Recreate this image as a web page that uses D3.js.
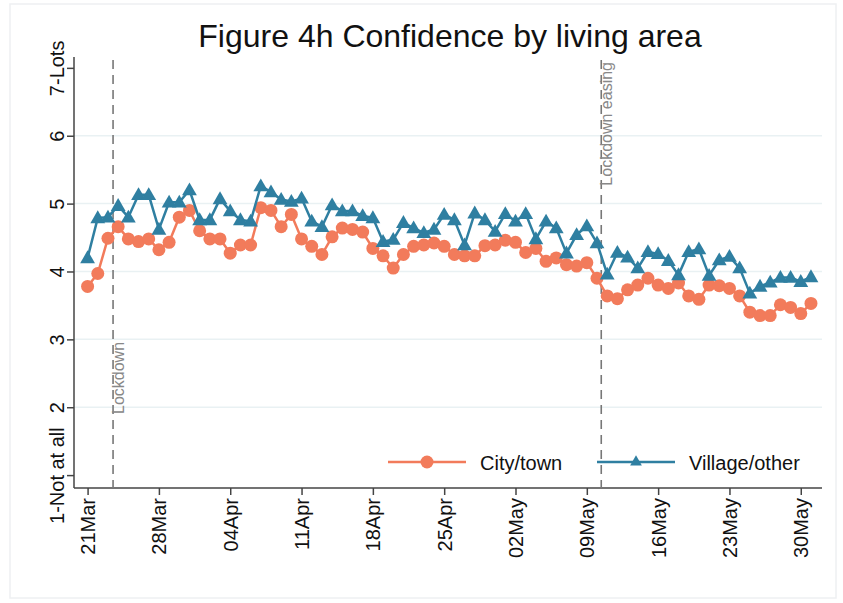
<!DOCTYPE html>
<html>
<head>
<meta charset="utf-8">
<script src="https://cdn.jsdelivr.net/npm/d3@7"></script>
<style>
  body { margin: 0; background: #fff; }
  svg { font-family: "Liberation Sans", Arial, sans-serif; }
</style>
</head>
<body>
<div id="chart"></div>
<script>
// daily series from 21 Mar to 31 May
const startDate = new Date(Date.UTC(2020, 2, 21));
const endDate = new Date(Date.UTC(2020, 5, 1));

const cityTown = [3.78, 3.97, 4.49, 4.66, 4.48, 4.44, 4.48, 4.32, 4.43, 4.80,
  4.90, 4.60, 4.48, 4.48, 4.27, 4.39, 4.39, 4.94, 4.90, 4.66,
  4.84, 4.48, 4.37, 4.25, 4.51, 4.64, 4.62, 4.58, 4.34, 4.23,
  4.05, 4.25, 4.37, 4.39, 4.42, 4.37, 4.25, 4.23, 4.23, 4.38,
  4.39, 4.46, 4.43, 4.28, 4.34, 4.15, 4.20, 4.10, 4.08, 4.13,
  3.90, 3.64, 3.60, 3.73, 3.80, 3.90, 3.80, 3.75, 3.83, 3.64,
  3.59, 3.80, 3.79, 3.75, 3.64, 3.40, 3.35, 3.35, 3.51, 3.47,
  3.38, 3.53];

const villageOther = [4.20, 4.79, 4.80, 4.97, 4.80, 5.13, 5.13, 4.62, 5.02, 5.02,
  5.20, 4.76, 4.76, 5.07, 4.89, 4.76, 4.74, 5.26, 5.17, 5.06,
  5.03, 5.08, 4.74, 4.66, 4.98, 4.89, 4.89, 4.82, 4.79, 4.44,
  4.47, 4.72, 4.64, 4.57, 4.62, 4.84, 4.76, 4.39, 4.86, 4.76,
  4.59, 4.85, 4.74, 4.85, 4.48, 4.74, 4.64, 4.27, 4.54, 4.67,
  4.42, 3.96, 4.28, 4.21, 4.05, 4.29, 4.26, 4.16, 3.95, 4.29,
  4.33, 3.94, 4.17, 4.22, 4.05, 3.68, 3.78, 3.84, 3.91, 3.91,
  3.85, 3.92];

const xTickDates = ["2020-03-21", "2020-03-28", "2020-04-04", "2020-04-11", "2020-04-18",
  "2020-04-25", "2020-05-02", "2020-05-09", "2020-05-16", "2020-05-23", "2020-05-30"];
const yTicks = [1, 2, 3, 4, 5, 6, 7];
const yTickLabels = ["1-Not at all", "2", "3", "4", "5", "6", "7-Lots"];
const eventLines = [
  {date: "2020-03-23T12:00Z", label: "Lockdown"},
  {date: "2020-05-10T10:00Z", label: "Lockdown easing"}
];
const seriesNames = ["City/town", "Village/other"];

const W = 843, H = 603;
const colCity = "#f27b5b", colVillage = "#2f7fa1";

const days = d3.utcDay.range(startDate, endDate);
const city = days.map((d, i) => ({date: d, value: cityTown[i]}));
const village = days.map((d, i) => ({date: d, value: villageOther[i]}));

const x = d3.scaleUtc()
    .domain([new Date(Date.UTC(2020, 2, 19, 16)), new Date(Date.UTC(2020, 5, 1, 2))])
    .range([74, 822]);
const y = d3.scaleLinear().domain([0.81, 7.16]).range([488, 57]);

const svg = d3.select("#chart").append("svg")
    .attr("width", W).attr("height", H);

svg.append("rect")
    .attr("x", 10).attr("y", 4).attr("width", 826).attr("height", 594)
    .attr("fill", "#fff").attr("stroke", "#eef0f2").attr("stroke-width", 1.5);

svg.append("text")
    .attr("x", 450).attr("y", 47)
    .attr("text-anchor", "middle")
    .attr("font-size", 32)
    .attr("fill", "#111")
    .text("Figure 4h Confidence by living area");

// gridlines
svg.append("g")
    .selectAll("line")
    .data(yTicks.filter(t => t > 1 && t < 7))
    .enter().append("line")
    .attr("x1", 74).attr("x2", 822)
    .attr("y1", d => y(d)).attr("y2", d => y(d))
    .attr("stroke", "#e9f1f3").attr("stroke-width", 1.5);

// y axis
const yAxis = svg.append("g")
    .attr("transform", "translate(74,0)")
    .call(d3.axisLeft(y).tickValues(yTicks).tickSize(7)
        .tickFormat((d, i) => yTickLabels[i]));
yAxis.select(".domain").attr("d", "M0,57V488").attr("stroke", "#444").attr("stroke-width", 1.5);
yAxis.selectAll(".tick line").attr("stroke", "#444").attr("stroke-width", 1.5);
yAxis.selectAll(".tick text")
    .attr("font-size", 20).attr("fill", "#111")
    .attr("font-family", "Liberation Sans, Arial, sans-serif")
    .attr("text-anchor", "middle")
    .attr("transform", "translate(-10,0) rotate(-90)")
    .attr("x", 0).attr("dy", 0).attr("y", 0);

// x axis
const xAxis = svg.append("g")
    .attr("transform", "translate(0,488)")
    .call(d3.axisBottom(x).tickValues(xTickDates.map(s => new Date(s + "T00:00Z")))
        .tickSize(7).tickFormat(d3.utcFormat("%d%b")));
xAxis.select(".domain").attr("d", "M74,0H822").attr("stroke", "#444").attr("stroke-width", 1.5);
xAxis.selectAll(".tick line").attr("stroke", "#444").attr("stroke-width", 1.5);
xAxis.selectAll(".tick text")
    .attr("font-size", 20).attr("fill", "#111")
    .attr("font-family", "Liberation Sans, Arial, sans-serif")
    .attr("text-anchor", "end")
    .attr("transform", "rotate(-90)")
    .attr("x", -10).attr("y", 0).attr("dy", "0.35em");

// event lines
const ev = svg.append("g").selectAll("g")
    .data(eventLines)
    .enter().append("g");
ev.append("line")
    .attr("x1", d => x(new Date(d.date))).attr("x2", d => x(new Date(d.date)))
    .attr("y1", 60).attr("y2", 488)
    .attr("stroke", "#777").attr("stroke-width", 1.6)
    .attr("stroke-dasharray", "9,6");
ev.append("text")
    .attr("transform", (d, i) => i === 0
        ? `translate(${x(new Date(d.date)) + 11},414) rotate(-90)`
        : `translate(${x(new Date(d.date)) + 11},62) rotate(-90)`)
    .attr("text-anchor", (d, i) => i === 0 ? "start" : "end")
    .attr("font-size", 16)
    .attr("fill", "#888")
    .text(d => d.label);

const line = d3.line().x(d => x(d.date)).y(d => y(d.value));
const tri = d3.symbol().type(d3.symbolTriangle).size(95);

svg.append("path").datum(city)
    .attr("fill", "none").attr("stroke", colCity).attr("stroke-width", 2.5)
    .attr("d", line);
svg.append("g").selectAll("circle")
    .data(city)
    .enter().append("circle")
    .attr("cx", d => x(d.date)).attr("cy", d => y(d.value))
    .attr("r", 6.5).attr("fill", colCity);

svg.append("path").datum(village)
    .attr("fill", "none").attr("stroke", colVillage).attr("stroke-width", 2.5)
    .attr("d", line);
svg.append("g").selectAll("path")
    .data(village)
    .enter().append("path")
    .attr("transform", d => `translate(${x(d.date)},${y(d.value) + 1})`)
    .attr("d", tri).attr("fill", colVillage);

// legend
const legend = svg.append("g").attr("transform", "translate(0,462)");
const items = [
  {name: seriesNames[0], color: colCity, x0: 388, shape: "circle"},
  {name: seriesNames[1], color: colVillage, x0: 597, shape: "triangle"}
];
const li = legend.selectAll("g").data(items).enter().append("g")
    .attr("transform", d => `translate(${d.x0},0)`);
li.append("line").attr("x1", 0).attr("x2", 78).attr("y1", 0).attr("y2", 0)
    .attr("stroke", d => d.color).attr("stroke-width", 2.5);
li.each(function (d) {
  const g = d3.select(this);
  if (d.shape === "circle") {
    g.append("circle").attr("cx", 39).attr("cy", 0).attr("r", 6.5).attr("fill", d.color);
  } else {
    g.append("path").attr("transform", "translate(39,0)").attr("d", d3.symbol().type(d3.symbolTriangle).size(60)).attr("fill", d.color);
  }
});
li.append("text").attr("x", 92).attr("y", 8)
    .attr("font-size", 20).attr("fill", "#111")
    .text(d => d.name);
</script>
</body>
</html>
